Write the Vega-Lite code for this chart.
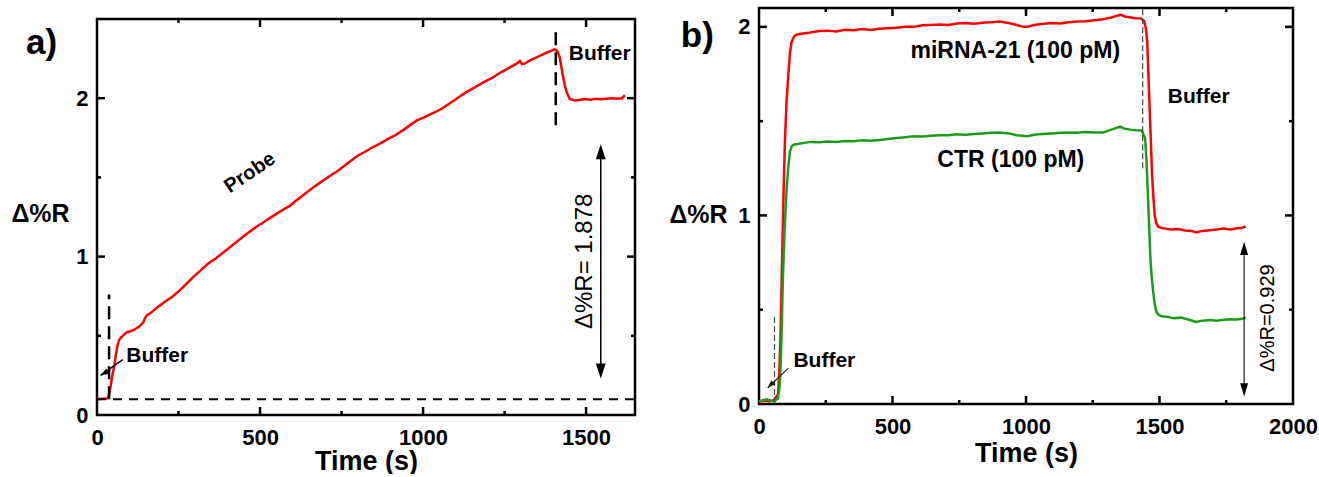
{
  "$schema": "https://vega.github.io/schema/vega-lite/v6.json",
  "padding": {"left": 10, "top": 6, "right": 0, "bottom": 0},
  "background": "white",
  "spacing": 30,
  "config": {
    "view": {"stroke": "black", "strokeWidth": 2.5},
    "axis": {
      "domain": false, "grid": false, "ticks": false,
      "labelFont": "Liberation Sans", "labelFontWeight": "bold", "labelFontSize": 22, "labelColor": "black",
      "titleFont": "Liberation Sans", "titleFontWeight": "bold", "titleFontSize": 27, "titleColor": "black",
      "labelFlush": false, "labelOverlap": false, "format": "d"
    },
    "axisX": {"labelPadding": 12},
    "axisY": {"labelPadding": 9},
    "tick": {"thickness": 2.5, "opacity": 1, "color": "black"},
    "text": {"font": "Liberation Sans", "color": "black"}
  },
  "datasets": {
    "a_curve": [
      {"t": 0, "v": 0.10}, {"t": 15, "v": 0.102}, {"t": 32, "v": 0.105}, {"t": 37, "v": 0.13}, {"t": 42, "v": 0.185},
      {"t": 47, "v": 0.25}, {"t": 53, "v": 0.31}, {"t": 58, "v": 0.38}, {"t": 63, "v": 0.44}, {"t": 68, "v": 0.475},
      {"t": 74, "v": 0.49}, {"t": 90, "v": 0.52}, {"t": 104, "v": 0.53}, {"t": 116, "v": 0.54}, {"t": 130, "v": 0.56},
      {"t": 142, "v": 0.585}, {"t": 147, "v": 0.61}, {"t": 153, "v": 0.63}, {"t": 165, "v": 0.645}, {"t": 179, "v": 0.67},
      {"t": 195, "v": 0.695}, {"t": 211, "v": 0.72}, {"t": 230, "v": 0.745}, {"t": 253, "v": 0.785}, {"t": 275, "v": 0.83},
      {"t": 295, "v": 0.87}, {"t": 316, "v": 0.91}, {"t": 340, "v": 0.955}, {"t": 365, "v": 0.99}, {"t": 396, "v": 1.04},
      {"t": 420, "v": 1.08}, {"t": 445, "v": 1.12}, {"t": 464, "v": 1.15}, {"t": 490, "v": 1.19}, {"t": 510, "v": 1.215},
      {"t": 527, "v": 1.24}, {"t": 550, "v": 1.27}, {"t": 570, "v": 1.295}, {"t": 591, "v": 1.32}, {"t": 615, "v": 1.36},
      {"t": 640, "v": 1.40}, {"t": 665, "v": 1.44}, {"t": 690, "v": 1.475}, {"t": 715, "v": 1.51}, {"t": 738, "v": 1.54},
      {"t": 760, "v": 1.575}, {"t": 782, "v": 1.61}, {"t": 802, "v": 1.64}, {"t": 825, "v": 1.665}, {"t": 845, "v": 1.69},
      {"t": 865, "v": 1.71}, {"t": 890, "v": 1.74}, {"t": 918, "v": 1.77}, {"t": 940, "v": 1.80}, {"t": 960, "v": 1.83},
      {"t": 981, "v": 1.86}, {"t": 1005, "v": 1.88}, {"t": 1030, "v": 1.905}, {"t": 1055, "v": 1.93}, {"t": 1080, "v": 1.965},
      {"t": 1108, "v": 2.005}, {"t": 1130, "v": 2.035}, {"t": 1160, "v": 2.07}, {"t": 1185, "v": 2.1}, {"t": 1213, "v": 2.13},
      {"t": 1240, "v": 2.165}, {"t": 1266, "v": 2.195}, {"t": 1285, "v": 2.215}, {"t": 1297, "v": 2.235}, {"t": 1303, "v": 2.215},
      {"t": 1313, "v": 2.22}, {"t": 1330, "v": 2.24}, {"t": 1350, "v": 2.26}, {"t": 1366, "v": 2.275}, {"t": 1382, "v": 2.29},
      {"t": 1395, "v": 2.3}, {"t": 1403, "v": 2.31}, {"t": 1411, "v": 2.3}, {"t": 1419, "v": 2.26}, {"t": 1424, "v": 2.2},
      {"t": 1429, "v": 2.14}, {"t": 1435, "v": 2.08}, {"t": 1440, "v": 2.04}, {"t": 1450, "v": 1.995}, {"t": 1466, "v": 1.985},
      {"t": 1482, "v": 1.99}, {"t": 1498, "v": 1.995}, {"t": 1515, "v": 1.99}, {"t": 1530, "v": 1.997}, {"t": 1545, "v": 1.993},
      {"t": 1560, "v": 1.997}, {"t": 1582, "v": 2.0}, {"t": 1595, "v": 1.996}, {"t": 1610, "v": 2.0}, {"t": 1619, "v": 2.02}
    ],
    "a_frame": [{"t": 0, "t2": 1650, "v": 0, "v2": 2.5}],
    "a_ticks": [
      {"edge": "bottom", "major": true, "t": 500, "v": 0}, {"edge": "bottom", "major": true, "t": 1000, "v": 0}, {"edge": "bottom", "major": true, "t": 1500, "v": 0},
      {"edge": "bottom", "major": false, "t": 250, "v": 0}, {"edge": "bottom", "major": false, "t": 750, "v": 0}, {"edge": "bottom", "major": false, "t": 1250, "v": 0},
      {"edge": "top", "major": true, "t": 500, "v": 2.5}, {"edge": "top", "major": true, "t": 1000, "v": 2.5}, {"edge": "top", "major": true, "t": 1500, "v": 2.5},
      {"edge": "top", "major": false, "t": 250, "v": 2.5}, {"edge": "top", "major": false, "t": 750, "v": 2.5}, {"edge": "top", "major": false, "t": 1250, "v": 2.5},
      {"edge": "left", "major": true, "t": 0, "v": 1}, {"edge": "left", "major": true, "t": 0, "v": 2},
      {"edge": "left", "major": false, "t": 0, "v": 0.5}, {"edge": "left", "major": false, "t": 0, "v": 1.5},
      {"edge": "right", "major": true, "t": 1650, "v": 1}, {"edge": "right", "major": true, "t": 1650, "v": 2},
      {"edge": "right", "major": false, "t": 1650, "v": 0.5}, {"edge": "right", "major": false, "t": 1650, "v": 1.5}
    ],
    "a_base": [{"t": 0, "t2": 1650, "v": 0.10}],
    "a_vdash": [{"t": 37, "v": 0.10, "v2": 0.76}, {"t": 1407, "v": 1.83, "v2": 2.45}],
    "a_shafts": [{"t": 1545, "v": 0.25, "t2": 1545, "v2": 1.69}, {"t": 79, "v": 0.35, "t2": 11, "v2": 0.25}],
    "a_heads": [
      {"kind": "up", "t": 1545, "v": 1.71},
      {"kind": "down", "t": 1545, "v": 0.23},
      {"kind": "buffer", "t": 10.5, "v": 0.25}
    ],
    "a_text": [
      {"kind": "buffer", "label": "Buffer", "t": 90, "v": 0.375},
      {"kind": "buffer", "label": "Buffer", "t": 1447, "v": 2.28},
      {"kind": "probe", "label": "Probe", "t": 469, "v": 1.53},
      {"kind": "delta", "label": "Δ%R= 1.878", "t": 1496, "v": 0.97},
      {"kind": "panel", "label": "a)", "t": -170, "v": 2.35}
    ],
    "b_curves": [
      {"s": "miRNA-21", "t": 0, "v": 0.012}, {"s": "miRNA-21", "t": 20, "v": 0.018}, {"s": "miRNA-21", "t": 40, "v": 0.015}, {"s": "miRNA-21", "t": 55, "v": 0.02},
      {"s": "miRNA-21", "t": 71, "v": 0.05}, {"s": "miRNA-21", "t": 76, "v": 0.17}, {"s": "miRNA-21", "t": 80, "v": 0.33}, {"s": "miRNA-21", "t": 84, "v": 0.6},
      {"s": "miRNA-21", "t": 88, "v": 0.86}, {"s": "miRNA-21", "t": 92, "v": 1.12}, {"s": "miRNA-21", "t": 97, "v": 1.39}, {"s": "miRNA-21", "t": 103, "v": 1.6},
      {"s": "miRNA-21", "t": 110, "v": 1.75}, {"s": "miRNA-21", "t": 116, "v": 1.86}, {"s": "miRNA-21", "t": 122, "v": 1.92}, {"s": "miRNA-21", "t": 132, "v": 1.95},
      {"s": "miRNA-21", "t": 142, "v": 1.96}, {"s": "miRNA-21", "t": 165, "v": 1.965}, {"s": "miRNA-21", "t": 193, "v": 1.97}, {"s": "miRNA-21", "t": 225, "v": 1.978},
      {"s": "miRNA-21", "t": 258, "v": 1.98}, {"s": "miRNA-21", "t": 290, "v": 1.976}, {"s": "miRNA-21", "t": 322, "v": 1.985}, {"s": "miRNA-21", "t": 355, "v": 1.982},
      {"s": "miRNA-21", "t": 387, "v": 1.988}, {"s": "miRNA-21", "t": 420, "v": 1.984}, {"s": "miRNA-21", "t": 450, "v": 1.99}, {"s": "miRNA-21", "t": 483, "v": 1.993},
      {"s": "miRNA-21", "t": 515, "v": 1.995}, {"s": "miRNA-21", "t": 548, "v": 2.0}, {"s": "miRNA-21", "t": 580, "v": 2.0}, {"s": "miRNA-21", "t": 612, "v": 2.008},
      {"s": "miRNA-21", "t": 644, "v": 2.01}, {"s": "miRNA-21", "t": 676, "v": 2.012}, {"s": "miRNA-21", "t": 709, "v": 2.01}, {"s": "miRNA-21", "t": 741, "v": 2.018},
      {"s": "miRNA-21", "t": 773, "v": 2.02}, {"s": "miRNA-21", "t": 805, "v": 2.017}, {"s": "miRNA-21", "t": 838, "v": 2.022}, {"s": "miRNA-21", "t": 870, "v": 2.025},
      {"s": "miRNA-21", "t": 902, "v": 2.028}, {"s": "miRNA-21", "t": 935, "v": 2.02}, {"s": "miRNA-21", "t": 965, "v": 2.01}, {"s": "miRNA-21", "t": 990, "v": 2.0},
      {"s": "miRNA-21", "t": 1005, "v": 2.0}, {"s": "miRNA-21", "t": 1030, "v": 2.01}, {"s": "miRNA-21", "t": 1060, "v": 2.015}, {"s": "miRNA-21", "t": 1095, "v": 2.02},
      {"s": "miRNA-21", "t": 1130, "v": 2.018}, {"s": "miRNA-21", "t": 1160, "v": 2.025}, {"s": "miRNA-21", "t": 1192, "v": 2.028}, {"s": "miRNA-21", "t": 1224, "v": 2.03},
      {"s": "miRNA-21", "t": 1256, "v": 2.035}, {"s": "miRNA-21", "t": 1289, "v": 2.04}, {"s": "miRNA-21", "t": 1320, "v": 2.05}, {"s": "miRNA-21", "t": 1340, "v": 2.058},
      {"s": "miRNA-21", "t": 1353, "v": 2.065}, {"s": "miRNA-21", "t": 1370, "v": 2.055}, {"s": "miRNA-21", "t": 1392, "v": 2.05}, {"s": "miRNA-21", "t": 1412, "v": 2.046},
      {"s": "miRNA-21", "t": 1430, "v": 2.045}, {"s": "miRNA-21", "t": 1443, "v": 2.03}, {"s": "miRNA-21", "t": 1449, "v": 1.99}, {"s": "miRNA-21", "t": 1454, "v": 1.92},
      {"s": "miRNA-21", "t": 1458, "v": 1.77}, {"s": "miRNA-21", "t": 1463, "v": 1.57}, {"s": "miRNA-21", "t": 1468, "v": 1.38}, {"s": "miRNA-21", "t": 1472, "v": 1.22},
      {"s": "miRNA-21", "t": 1477, "v": 1.1}, {"s": "miRNA-21", "t": 1482, "v": 1.0}, {"s": "miRNA-21", "t": 1488, "v": 0.96}, {"s": "miRNA-21", "t": 1495, "v": 0.94},
      {"s": "miRNA-21", "t": 1508, "v": 0.933}, {"s": "miRNA-21", "t": 1521, "v": 0.93}, {"s": "miRNA-21", "t": 1545, "v": 0.925}, {"s": "miRNA-21", "t": 1570, "v": 0.928},
      {"s": "miRNA-21", "t": 1595, "v": 0.92}, {"s": "miRNA-21", "t": 1620, "v": 0.918}, {"s": "miRNA-21", "t": 1637, "v": 0.91}, {"s": "miRNA-21", "t": 1660, "v": 0.918},
      {"s": "miRNA-21", "t": 1690, "v": 0.922}, {"s": "miRNA-21", "t": 1715, "v": 0.925}, {"s": "miRNA-21", "t": 1740, "v": 0.93}, {"s": "miRNA-21", "t": 1765, "v": 0.926},
      {"s": "miRNA-21", "t": 1790, "v": 0.932}, {"s": "miRNA-21", "t": 1810, "v": 0.935}, {"s": "miRNA-21", "t": 1823, "v": 0.942},
      {"s": "CTR", "t": 0, "v": 0.015}, {"s": "CTR", "t": 15, "v": 0.02}, {"s": "CTR", "t": 30, "v": 0.025}, {"s": "CTR", "t": 45, "v": 0.018}, {"s": "CTR", "t": 58, "v": 0.015},
      {"s": "CTR", "t": 71, "v": 0.03}, {"s": "CTR", "t": 76, "v": 0.08}, {"s": "CTR", "t": 80, "v": 0.155}, {"s": "CTR", "t": 85, "v": 0.4},
      {"s": "CTR", "t": 90, "v": 0.69}, {"s": "CTR", "t": 96, "v": 0.93}, {"s": "CTR", "t": 103, "v": 1.13}, {"s": "CTR", "t": 110, "v": 1.26},
      {"s": "CTR", "t": 116, "v": 1.34}, {"s": "CTR", "t": 122, "v": 1.365}, {"s": "CTR", "t": 129, "v": 1.375}, {"s": "CTR", "t": 160, "v": 1.383},
      {"s": "CTR", "t": 193, "v": 1.39}, {"s": "CTR", "t": 225, "v": 1.388}, {"s": "CTR", "t": 258, "v": 1.392}, {"s": "CTR", "t": 290, "v": 1.39},
      {"s": "CTR", "t": 322, "v": 1.395}, {"s": "CTR", "t": 355, "v": 1.393}, {"s": "CTR", "t": 387, "v": 1.398}, {"s": "CTR", "t": 420, "v": 1.396},
      {"s": "CTR", "t": 451, "v": 1.40}, {"s": "CTR", "t": 483, "v": 1.405}, {"s": "CTR", "t": 515, "v": 1.41}, {"s": "CTR", "t": 548, "v": 1.415},
      {"s": "CTR", "t": 580, "v": 1.42}, {"s": "CTR", "t": 612, "v": 1.418}, {"s": "CTR", "t": 644, "v": 1.422}, {"s": "CTR", "t": 676, "v": 1.425},
      {"s": "CTR", "t": 709, "v": 1.425}, {"s": "CTR", "t": 741, "v": 1.43}, {"s": "CTR", "t": 773, "v": 1.428}, {"s": "CTR", "t": 805, "v": 1.432},
      {"s": "CTR", "t": 838, "v": 1.435}, {"s": "CTR", "t": 870, "v": 1.438}, {"s": "CTR", "t": 902, "v": 1.44}, {"s": "CTR", "t": 935, "v": 1.435},
      {"s": "CTR", "t": 965, "v": 1.425}, {"s": "CTR", "t": 1005, "v": 1.42}, {"s": "CTR", "t": 1030, "v": 1.428}, {"s": "CTR", "t": 1060, "v": 1.432},
      {"s": "CTR", "t": 1095, "v": 1.435}, {"s": "CTR", "t": 1130, "v": 1.438}, {"s": "CTR", "t": 1160, "v": 1.44}, {"s": "CTR", "t": 1192, "v": 1.438},
      {"s": "CTR", "t": 1224, "v": 1.442}, {"s": "CTR", "t": 1256, "v": 1.44}, {"s": "CTR", "t": 1289, "v": 1.44}, {"s": "CTR", "t": 1320, "v": 1.455},
      {"s": "CTR", "t": 1340, "v": 1.465}, {"s": "CTR", "t": 1353, "v": 1.47}, {"s": "CTR", "t": 1370, "v": 1.46}, {"s": "CTR", "t": 1392, "v": 1.455},
      {"s": "CTR", "t": 1412, "v": 1.452}, {"s": "CTR", "t": 1433, "v": 1.45}, {"s": "CTR", "t": 1446, "v": 1.41}, {"s": "CTR", "t": 1451, "v": 1.3},
      {"s": "CTR", "t": 1456, "v": 1.13}, {"s": "CTR", "t": 1461, "v": 0.95}, {"s": "CTR", "t": 1466, "v": 0.77}, {"s": "CTR", "t": 1471, "v": 0.67},
      {"s": "CTR", "t": 1476, "v": 0.60}, {"s": "CTR", "t": 1482, "v": 0.53}, {"s": "CTR", "t": 1488, "v": 0.49}, {"s": "CTR", "t": 1498, "v": 0.472},
      {"s": "CTR", "t": 1508, "v": 0.465}, {"s": "CTR", "t": 1530, "v": 0.462}, {"s": "CTR", "t": 1555, "v": 0.455}, {"s": "CTR", "t": 1580, "v": 0.458},
      {"s": "CTR", "t": 1611, "v": 0.447}, {"s": "CTR", "t": 1637, "v": 0.435}, {"s": "CTR", "t": 1660, "v": 0.442}, {"s": "CTR", "t": 1690, "v": 0.445},
      {"s": "CTR", "t": 1715, "v": 0.442}, {"s": "CTR", "t": 1740, "v": 0.447}, {"s": "CTR", "t": 1765, "v": 0.45}, {"s": "CTR", "t": 1790, "v": 0.448},
      {"s": "CTR", "t": 1810, "v": 0.452}, {"s": "CTR", "t": 1823, "v": 0.458}
    ],
    "b_ticks": [
      {"edge": "bottom", "major": true, "t": 500, "v": 0}, {"edge": "bottom", "major": true, "t": 1000, "v": 0}, {"edge": "bottom", "major": true, "t": 1500, "v": 0},
      {"edge": "bottom", "major": false, "t": 250, "v": 0}, {"edge": "bottom", "major": false, "t": 750, "v": 0}, {"edge": "bottom", "major": false, "t": 1250, "v": 0}, {"edge": "bottom", "major": false, "t": 1750, "v": 0},
      {"edge": "top", "major": true, "t": 500, "v": 2.1}, {"edge": "top", "major": true, "t": 1000, "v": 2.1}, {"edge": "top", "major": true, "t": 1500, "v": 2.1},
      {"edge": "top", "major": false, "t": 250, "v": 2.1}, {"edge": "top", "major": false, "t": 750, "v": 2.1}, {"edge": "top", "major": false, "t": 1250, "v": 2.1}, {"edge": "top", "major": false, "t": 1750, "v": 2.1},
      {"edge": "left", "major": true, "t": 0, "v": 1}, {"edge": "left", "major": true, "t": 0, "v": 2},
      {"edge": "left", "major": false, "t": 0, "v": 0.5}, {"edge": "left", "major": false, "t": 0, "v": 1.5},
      {"edge": "right", "major": true, "t": 2000, "v": 1}, {"edge": "right", "major": true, "t": 2000, "v": 2},
      {"edge": "right", "major": false, "t": 2000, "v": 0.5}, {"edge": "right", "major": false, "t": 2000, "v": 1.5}
    ],
    "b_vdash": [{"t": 1437, "v": 1.25, "v2": 2.1}, {"t": 58, "v": 0.0, "v2": 0.465}],
    "b_shafts": [{"t": 1817, "v": 0.06, "t2": 1817, "v2": 0.84}, {"t": 110, "v": 0.19, "t2": 33, "v2": 0.086}],
    "b_heads": [
      {"kind": "up", "t": 1817, "v": 0.86},
      {"kind": "down", "t": 1817, "v": 0.04},
      {"kind": "buffer", "t": 32, "v": 0.085}
    ],
    "b_text": [
      {"kind": "label", "label": "miRNA-21 (100 pM)", "t": 960, "v": 1.87},
      {"kind": "label", "label": "CTR (100 pM)", "t": 943, "v": 1.295},
      {"kind": "buffer", "label": "Buffer", "t": 129, "v": 0.226},
      {"kind": "buffer", "label": "Buffer", "t": 1531, "v": 1.63},
      {"kind": "delta", "label": "Δ%R=0.929", "t": 1905, "v": 0.456},
      {"kind": "panel", "label": "b)", "t": -231, "v": 1.95}
    ]
  },
  "hconcat": [
    {
      "width": 538,
      "height": 407,
      "view": {"stroke": null},
      "layer": [
        {
          "data": {"name": "a_frame"},
          "mark": {"type": "rect", "filled": false, "stroke": "black", "strokeWidth": 2.5},
          "encoding": {
            "x": {
              "field": "t", "type": "quantitative",
              "scale": {"domain": [0, 1650], "nice": false, "zero": false},
              "axis": {"title": "Time (s)", "titlePadding": 0, "values": [0, 500, 1000, 1500]}
            },
            "x2": {"field": "t2"},
            "y": {
              "field": "v", "type": "quantitative",
              "scale": {"domain": [0, 2.5], "nice": false, "zero": false, "range": [407, 11]},
              "axis": {
                "title": "Δ%R", "titleAngle": 0, "titleX": -57, "titleY": 205,
                "titleAlign": "center", "titleBaseline": "middle", "titleFontSize": 25,
                "values": [0, 1, 2]
              }
            },
            "y2": {"field": "v2"}
          }
        },
        {
          "data": {"name": "a_ticks"},
          "transform": [{"filter": "datum.edge === 'bottom' && datum.major"}],
          "mark": {"type": "tick", "orient": "vertical", "size": 8, "yOffset": -4},
          "encoding": {"x": {"field": "t", "type": "quantitative"}, "y": {"field": "v", "type": "quantitative"}}
        },
        {
          "data": {"name": "a_ticks"},
          "transform": [{"filter": "datum.edge === 'bottom' && !datum.major"}],
          "mark": {"type": "tick", "orient": "vertical", "size": 4, "yOffset": -2},
          "encoding": {"x": {"field": "t", "type": "quantitative"}, "y": {"field": "v", "type": "quantitative"}}
        },
        {
          "data": {"name": "a_ticks"},
          "transform": [{"filter": "datum.edge === 'top' && datum.major"}],
          "mark": {"type": "tick", "orient": "vertical", "size": 8, "yOffset": 4},
          "encoding": {"x": {"field": "t", "type": "quantitative"}, "y": {"field": "v", "type": "quantitative"}}
        },
        {
          "data": {"name": "a_ticks"},
          "transform": [{"filter": "datum.edge === 'top' && !datum.major"}],
          "mark": {"type": "tick", "orient": "vertical", "size": 4, "yOffset": 2},
          "encoding": {"x": {"field": "t", "type": "quantitative"}, "y": {"field": "v", "type": "quantitative"}}
        },
        {
          "data": {"name": "a_ticks"},
          "transform": [{"filter": "datum.edge === 'left' && datum.major"}],
          "mark": {"type": "tick", "orient": "horizontal", "size": 8, "xOffset": 4},
          "encoding": {"x": {"field": "t", "type": "quantitative"}, "y": {"field": "v", "type": "quantitative"}}
        },
        {
          "data": {"name": "a_ticks"},
          "transform": [{"filter": "datum.edge === 'left' && !datum.major"}],
          "mark": {"type": "tick", "orient": "horizontal", "size": 4, "xOffset": 2},
          "encoding": {"x": {"field": "t", "type": "quantitative"}, "y": {"field": "v", "type": "quantitative"}}
        },
        {
          "data": {"name": "a_ticks"},
          "transform": [{"filter": "datum.edge === 'right' && datum.major"}],
          "mark": {"type": "tick", "orient": "horizontal", "size": 8, "xOffset": -4},
          "encoding": {"x": {"field": "t", "type": "quantitative"}, "y": {"field": "v", "type": "quantitative"}}
        },
        {
          "data": {"name": "a_ticks"},
          "transform": [{"filter": "datum.edge === 'right' && !datum.major"}],
          "mark": {"type": "tick", "orient": "horizontal", "size": 4, "xOffset": -2},
          "encoding": {"x": {"field": "t", "type": "quantitative"}, "y": {"field": "v", "type": "quantitative"}}
        },
        {
          "data": {"name": "a_curve"},
          "mark": {"type": "line", "color": "#ff0000", "strokeWidth": 2.5},
          "encoding": {
            "x": {"field": "t", "type": "quantitative"},
            "y": {"field": "v", "type": "quantitative"}
          }
        },
        {
          "data": {"name": "a_vdash"},
          "mark": {"type": "rule", "color": "black", "strokeWidth": 2.5, "strokeDash": [13, 7]},
          "encoding": {
            "x": {"field": "t", "type": "quantitative"},
            "y": {"field": "v", "type": "quantitative"},
            "y2": {"field": "v2"}
          }
        },
        {
          "data": {"name": "a_base"},
          "mark": {"type": "rule", "color": "black", "strokeWidth": 2, "strokeDash": [9, 7]},
          "encoding": {
            "x": {"field": "t", "type": "quantitative"},
            "x2": {"field": "t2"},
            "y": {"field": "v", "type": "quantitative"}
          }
        },
        {
          "data": {"name": "a_shafts"},
          "mark": {"type": "rule", "color": "black", "strokeWidth": 1.5},
          "encoding": {
            "x": {"field": "t", "type": "quantitative"},
            "y": {"field": "v", "type": "quantitative"},
            "x2": {"field": "t2"},
            "y2": {"field": "v2"}
          }
        },
        {
          "data": {"name": "a_heads"},
          "transform": [{"filter": "datum.kind === 'up'"}],
          "mark": {"type": "point", "shape": "M0,0 L0.33,1 L-0.33,1 Z", "size": 900, "filled": true, "color": "black", "opacity": 1, "angle": 0},
          "encoding": {
            "x": {"field": "t", "type": "quantitative"},
            "y": {"field": "v", "type": "quantitative"}
          }
        },
        {
          "data": {"name": "a_heads"},
          "transform": [{"filter": "datum.kind === 'down'"}],
          "mark": {"type": "point", "shape": "M0,0 L0.33,1 L-0.33,1 Z", "size": 900, "filled": true, "color": "black", "opacity": 1, "angle": 180},
          "encoding": {
            "x": {"field": "t", "type": "quantitative"},
            "y": {"field": "v", "type": "quantitative"}
          }
        },
        {
          "data": {"name": "a_heads"},
          "transform": [{"filter": "datum.kind === 'buffer'"}],
          "mark": {"type": "point", "shape": "M0,0 L0.35,1 L-0.35,1 Z", "size": 300, "filled": true, "color": "black", "opacity": 1, "angle": 240},
          "encoding": {
            "x": {"field": "t", "type": "quantitative"},
            "y": {"field": "v", "type": "quantitative"}
          }
        },
        {
          "data": {"name": "a_text"},
          "transform": [{"filter": "datum.kind === 'buffer'"}],
          "mark": {"type": "text", "fontSize": 21, "fontWeight": "bold", "align": "left", "baseline": "middle"},
          "encoding": {
            "x": {"field": "t", "type": "quantitative"},
            "y": {"field": "v", "type": "quantitative"},
            "text": {"field": "label"}
          }
        },
        {
          "data": {"name": "a_text"},
          "transform": [{"filter": "datum.kind === 'probe'"}],
          "mark": {"type": "text", "fontSize": 20, "fontWeight": "bold", "align": "center", "baseline": "middle", "angle": -34},
          "encoding": {
            "x": {"field": "t", "type": "quantitative"},
            "y": {"field": "v", "type": "quantitative"},
            "text": {"field": "label"}
          }
        },
        {
          "data": {"name": "a_text"},
          "transform": [{"filter": "datum.kind === 'delta'"}],
          "mark": {"type": "text", "fontSize": 24, "fontWeight": "normal", "align": "center", "baseline": "middle", "angle": 270},
          "encoding": {
            "x": {"field": "t", "type": "quantitative"},
            "y": {"field": "v", "type": "quantitative"},
            "text": {"field": "label"}
          }
        },
        {
          "data": {"name": "a_text"},
          "transform": [{"filter": "datum.kind === 'panel'"}],
          "mark": {"type": "text", "fontSize": 35, "fontWeight": "bold", "align": "center", "baseline": "middle"},
          "encoding": {
            "x": {"field": "t", "type": "quantitative"},
            "y": {"field": "v", "type": "quantitative"},
            "text": {"field": "label"}
          }
        }
      ]
    },
    {
      "width": 534,
      "height": 396,
      "layer": [
        {
          "data": {"name": "b_curves"},
          "transform": [{"filter": "datum.s === 'miRNA-21'"}],
          "mark": {"type": "line", "color": "#ff0000", "strokeWidth": 2.5},
          "encoding": {
            "x": {
              "field": "t", "type": "quantitative",
              "scale": {"domain": [0, 2000], "nice": false, "zero": false},
              "axis": {"title": "Time (s)", "titlePadding": 3, "values": [0, 500, 1000, 1500, 2000]}
            },
            "y": {
              "field": "v", "type": "quantitative",
              "scale": {"domain": [0, 2.1], "nice": false, "zero": false},
              "axis": {
                "title": "Δ%R", "titleAngle": 0, "titleX": -61, "titleY": 206,
                "titleAlign": "center", "titleBaseline": "middle", "titleFontSize": 25,
                "values": [0, 1, 2]
              }
            }
          }
        },
        {
          "data": {"name": "b_curves"},
          "transform": [{"filter": "datum.s === 'CTR'"}],
          "mark": {"type": "line", "color": "#1a9e1a", "strokeWidth": 2.5},
          "encoding": {
            "x": {"field": "t", "type": "quantitative"},
            "y": {"field": "v", "type": "quantitative"}
          }
        },
        {
          "data": {"name": "b_ticks"},
          "transform": [{"filter": "datum.edge === 'bottom' && datum.major"}],
          "mark": {"type": "tick", "orient": "vertical", "size": 8, "yOffset": -4},
          "encoding": {"x": {"field": "t", "type": "quantitative"}, "y": {"field": "v", "type": "quantitative"}}
        },
        {
          "data": {"name": "b_ticks"},
          "transform": [{"filter": "datum.edge === 'bottom' && !datum.major"}],
          "mark": {"type": "tick", "orient": "vertical", "size": 4, "yOffset": -2},
          "encoding": {"x": {"field": "t", "type": "quantitative"}, "y": {"field": "v", "type": "quantitative"}}
        },
        {
          "data": {"name": "b_ticks"},
          "transform": [{"filter": "datum.edge === 'top' && datum.major"}],
          "mark": {"type": "tick", "orient": "vertical", "size": 8, "yOffset": 4},
          "encoding": {"x": {"field": "t", "type": "quantitative"}, "y": {"field": "v", "type": "quantitative"}}
        },
        {
          "data": {"name": "b_ticks"},
          "transform": [{"filter": "datum.edge === 'top' && !datum.major"}],
          "mark": {"type": "tick", "orient": "vertical", "size": 4, "yOffset": 2},
          "encoding": {"x": {"field": "t", "type": "quantitative"}, "y": {"field": "v", "type": "quantitative"}}
        },
        {
          "data": {"name": "b_ticks"},
          "transform": [{"filter": "datum.edge === 'left' && datum.major"}],
          "mark": {"type": "tick", "orient": "horizontal", "size": 8, "xOffset": 4},
          "encoding": {"x": {"field": "t", "type": "quantitative"}, "y": {"field": "v", "type": "quantitative"}}
        },
        {
          "data": {"name": "b_ticks"},
          "transform": [{"filter": "datum.edge === 'left' && !datum.major"}],
          "mark": {"type": "tick", "orient": "horizontal", "size": 4, "xOffset": 2},
          "encoding": {"x": {"field": "t", "type": "quantitative"}, "y": {"field": "v", "type": "quantitative"}}
        },
        {
          "data": {"name": "b_ticks"},
          "transform": [{"filter": "datum.edge === 'right' && datum.major"}],
          "mark": {"type": "tick", "orient": "horizontal", "size": 8, "xOffset": -4},
          "encoding": {"x": {"field": "t", "type": "quantitative"}, "y": {"field": "v", "type": "quantitative"}}
        },
        {
          "data": {"name": "b_ticks"},
          "transform": [{"filter": "datum.edge === 'right' && !datum.major"}],
          "mark": {"type": "tick", "orient": "horizontal", "size": 4, "xOffset": -2},
          "encoding": {"x": {"field": "t", "type": "quantitative"}, "y": {"field": "v", "type": "quantitative"}}
        },
        {
          "data": {"name": "b_vdash"},
          "mark": {"type": "rule", "color": "#444444", "strokeWidth": 1.2, "strokeDash": [6, 3]},
          "encoding": {
            "x": {"field": "t", "type": "quantitative"},
            "y": {"field": "v", "type": "quantitative"},
            "y2": {"field": "v2"}
          }
        },
        {
          "data": {"name": "b_shafts"},
          "mark": {"type": "rule", "color": "#222222", "strokeWidth": 1.2},
          "encoding": {
            "x": {"field": "t", "type": "quantitative"},
            "y": {"field": "v", "type": "quantitative"},
            "x2": {"field": "t2"},
            "y2": {"field": "v2"}
          }
        },
        {
          "data": {"name": "b_heads"},
          "transform": [{"filter": "datum.kind === 'up'"}],
          "mark": {"type": "point", "shape": "M0,0 L0.3,1 L-0.3,1 Z", "size": 700, "filled": true, "color": "black", "opacity": 1, "angle": 0},
          "encoding": {
            "x": {"field": "t", "type": "quantitative"},
            "y": {"field": "v", "type": "quantitative"}
          }
        },
        {
          "data": {"name": "b_heads"},
          "transform": [{"filter": "datum.kind === 'down'"}],
          "mark": {"type": "point", "shape": "M0,0 L0.3,1 L-0.3,1 Z", "size": 700, "filled": true, "color": "black", "opacity": 1, "angle": 180},
          "encoding": {
            "x": {"field": "t", "type": "quantitative"},
            "y": {"field": "v", "type": "quantitative"}
          }
        },
        {
          "data": {"name": "b_heads"},
          "transform": [{"filter": "datum.kind === 'buffer'"}],
          "mark": {"type": "point", "shape": "M0,0 L0.35,1 L-0.35,1 Z", "size": 260, "filled": true, "color": "#222222", "opacity": 1, "angle": 225},
          "encoding": {
            "x": {"field": "t", "type": "quantitative"},
            "y": {"field": "v", "type": "quantitative"}
          }
        },
        {
          "data": {"name": "b_text"},
          "transform": [{"filter": "datum.kind === 'label'"}],
          "mark": {"type": "text", "fontSize": 23, "fontWeight": "bold", "align": "center", "baseline": "middle"},
          "encoding": {
            "x": {"field": "t", "type": "quantitative"},
            "y": {"field": "v", "type": "quantitative"},
            "text": {"field": "label"}
          }
        },
        {
          "data": {"name": "b_text"},
          "transform": [{"filter": "datum.kind === 'buffer'"}],
          "mark": {"type": "text", "fontSize": 21, "fontWeight": "bold", "align": "left", "baseline": "middle"},
          "encoding": {
            "x": {"field": "t", "type": "quantitative"},
            "y": {"field": "v", "type": "quantitative"},
            "text": {"field": "label"}
          }
        },
        {
          "data": {"name": "b_text"},
          "transform": [{"filter": "datum.kind === 'delta'"}],
          "mark": {"type": "text", "fontSize": 20, "fontWeight": "normal", "align": "center", "baseline": "middle", "angle": 270},
          "encoding": {
            "x": {"field": "t", "type": "quantitative"},
            "y": {"field": "v", "type": "quantitative"},
            "text": {"field": "label"}
          }
        },
        {
          "data": {"name": "b_text"},
          "transform": [{"filter": "datum.kind === 'panel'"}],
          "mark": {"type": "text", "fontSize": 35, "fontWeight": "bold", "align": "center", "baseline": "middle"},
          "encoding": {
            "x": {"field": "t", "type": "quantitative"},
            "y": {"field": "v", "type": "quantitative"},
            "text": {"field": "label"}
          }
        }
      ]
    }
  ]
}
